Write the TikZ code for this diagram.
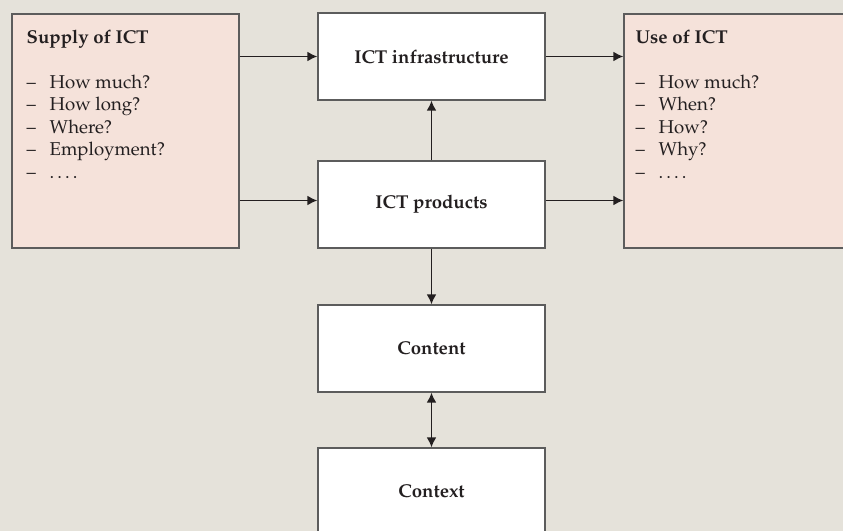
\documentclass[tikz,border=0pt]{standalone}
\usepackage[T1]{fontenc}
\usepackage{mathpazo}
\usepackage{tikz}
\usetikzlibrary{calc}
\usetikzlibrary{shapes,arrows,arrows.meta}
\definecolor{bgcol}{HTML}{E5E2DA}
\definecolor{pinkcol}{HTML}{F5E2DA}
\definecolor{edgecol}{HTML}{5C5C5C}
\definecolor{inkcol}{HTML}{231F20}
\newcommand{\dashitem}{\makebox[11.5pt][l]{--}}
\tikzstyle{block} = [rectangle, draw=edgecol, line width=0.7pt, fill=white, minimum width=113.5pt, minimum height=43.5pt, inner sep=0pt, font=\bfseries, text=inkcol]
\tikzstyle{bigblock} = [rectangle, draw=edgecol, line width=0.7pt, fill=pinkcol, minimum width=113.5pt, minimum height=117pt, inner sep=0pt]
\tikzstyle{listtext} = [anchor=north west, align=left, inner sep=0pt, text=inkcol]
\tikzstyle{line} = [draw=inkcol, line width=0.8pt, -{Latex[length=5pt,width=5pt]}]
\tikzstyle{dline} = [draw=inkcol, line width=0.8pt, {Latex[length=5pt,width=5pt]}-{Latex[length=5pt,width=5pt]}]

\begin{document}
\fontsize{9.3}{11.25}\selectfont
\begin{tikzpicture}[x=0.5pt, y=-0.5pt]
    \clip (0,0) rectangle (843,531);
    \fill [bgcol] (0,0) rectangle (843,531);
    \node [bigblock] (supply) at (125.5,131) {};
    \node [block] (infra) at (431.5,56.5) {ICT infrastructure};
    \node [block, below of=infra, node distance=74pt] (products) {ICT products};
    \node [block, below of=products, node distance=72pt] (content) {Content};
    \node [block, below of=content, node distance=71.5pt] (context) {Context};
    \node [bigblock] (use) at (737.5,131) {};
    \node [listtext] (supplytext) at ([shift={(15,16)}]supply.north west)
      {\textbf{Supply of ICT}\\[11.25pt]
       \dashitem How much?\\
       \dashitem How long?\\
       \dashitem Where?\\
       \dashitem Employment?\\
       \dashitem .\,.\,.\,.};
    \node [listtext] (usetext) at ([shift={(12,16)}]use.north west)
      {\textbf{Use of ICT}\\[11.25pt]
       \dashitem How much?\\
       \dashitem When?\\
       \dashitem How?\\
       \dashitem Why?\\
       \dashitem .\,.\,.\,.};
    \path [line] (supply.east |- infra) -- (infra);
    \path [line] ([yshift=2pt]supply.east |- products) -- ([yshift=2pt]products.west);
    \path [line] (infra) -- (infra -| use.west);
    \path [line] ([yshift=2pt]products.east) -- ([yshift=2pt]products.east -| use.west);
    \path [line] (products) -- (infra);
    \path [line] (products) -- (content);
    \path [dline] (content) -- (context);
  \end{tikzpicture}
\end{document}
